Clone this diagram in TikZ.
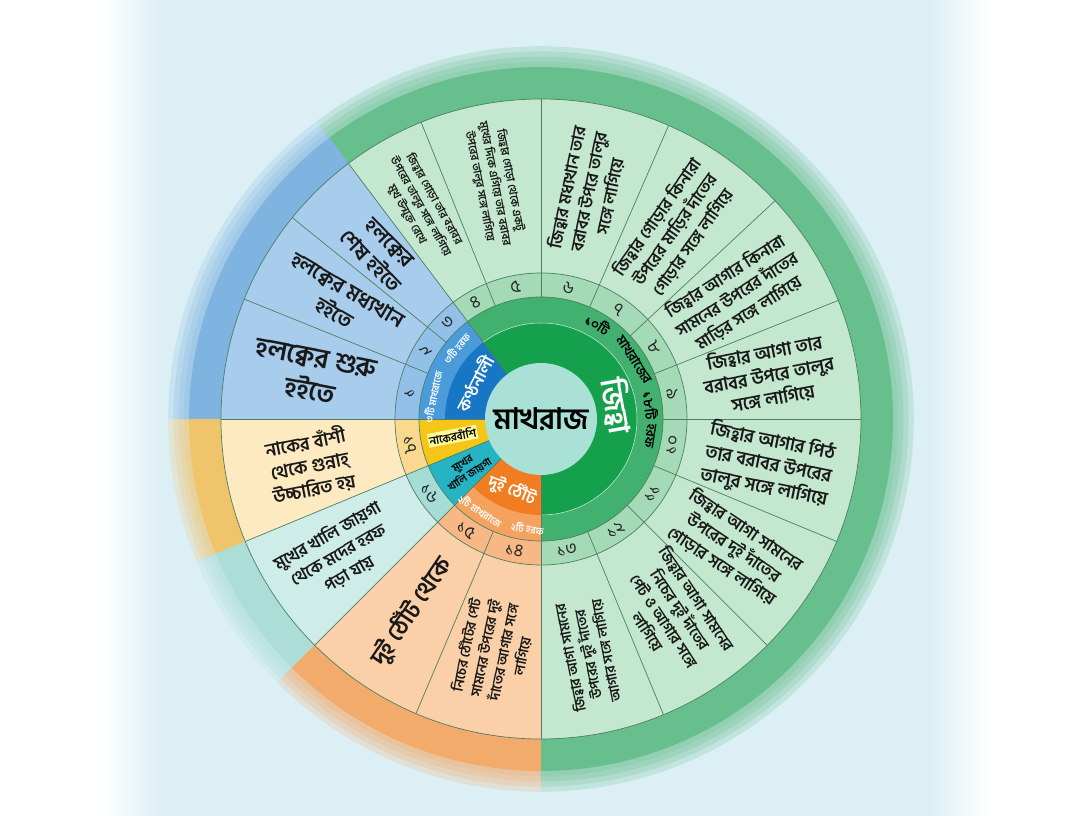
\documentclass[tikz,border=0pt]{standalone}
\usepackage{fontspec}
\newfontfamily\bn[Script=Bengali]{Hind Siliguri}
\usetikzlibrary{calc}

\definecolor{bgblue}{HTML}{DCEFF5}
\definecolor{rimgreen}{HTML}{68BF8E}
\definecolor{rimblue}{HTML}{7FB4E0}
\definecolor{rimyellow}{HTML}{EFC46A}
\definecolor{rimteal}{HTML}{ACDDD7}
\definecolor{rimorange}{HTML}{F3AB6C}
\definecolor{segreen}{HTML}{C3E8CF}
\definecolor{segblue}{HTML}{A8CCEB}
\definecolor{segyellow}{HTML}{FDEAC0}
\definecolor{segteal}{HTML}{CFEDE8}
\definecolor{segorange}{HTML}{FBCFA8}
\definecolor{numgreen}{HTML}{A4DAB5}
\definecolor{numblue}{HTML}{93C0E8}
\definecolor{numyellow}{HTML}{FAD98E}
\definecolor{numteal}{HTML}{A6DCD6}
\definecolor{numorange}{HTML}{F8B885}
\definecolor{midgreen}{HTML}{42B06E}
\definecolor{midblue}{HTML}{4B9BDB}
\definecolor{midorange}{HTML}{F5A25E}
\definecolor{ingreen}{HTML}{14A04C}
\definecolor{inblue}{HTML}{1877C5}
\definecolor{inyellow}{HTML}{F5C518}
\definecolor{inteal}{HTML}{26B3C4}
\definecolor{inorange}{HTML}{F07D22}
\definecolor{hub}{HTML}{A9E1D6}
\definecolor{lineclr}{HTML}{4D7F63}

\begin{document}
\begin{tikzpicture}[
    segtext/.style={align=center, text=black!90, inner sep=1pt},
    num/.style={font=\bn\fontsize{12.5}{12.5}\selectfont, text=black!85, inner sep=0pt},
    ringtext/.style={font=\bn\bfseries\fontsize{9.5}{9.5}\selectfont, inner sep=0pt},
    smallring/.style={font=\bn\bfseries\fontsize{7}{7}\selectfont, text=white, inner sep=0pt},
    segline/.style={lineclr, line width=0.5pt}
]
\useasboundingbox (-13.525,-9.925) rectangle (13.45,10.475);

% Background
\fill[white] (-13.525,-9.925) rectangle (13.45,10.475);
\fill[bgblue] (-9.5,-9.925) rectangle (9.7,10.475);
\shade[left color=white, right color=bgblue] (-11.0,-9.925) rectangle (-9.5,10.475);
\shade[left color=bgblue, right color=white] (9.7,-9.925) rectangle (11.2,10.475);

% Rim (soft edge)
\foreach \a/\b/\c in {-90/127/rimgreen, 127/180/rimblue, 180/202.5/rimyellow, 202.5/225/rimteal, 225/270/rimorange}{
  \foreach \k in {4,3,2,1}
    \fill[\c, opacity=0.22] (0,0) -- (\a:{8.8+0.13*\k}) arc[start angle=\a, end angle=\b, radius={8.8+0.13*\k}] -- cycle;
  \fill[\c] (0,0) -- (\a:8.8) arc[start angle=\a, end angle=\b, radius=8.8] -- cycle;
}

% Text segments
\foreach \a/\b/\c in {-90/127/segreen, 127/180/segblue, 180/202.5/segyellow, 202.5/225/segteal, 225/270/segorange}
  \fill[\c] (0,0) -- (\a:8.0) arc[start angle=\a, end angle=\b, radius=8.0] -- cycle;

% Number ring
\foreach \a/\b/\c in {-90/127/numgreen, 127/180/numblue, 180/202.5/numyellow, 202.5/225/numteal, 225/270/numorange}
  \fill[\c] (0,0) -- (\a:3.65) arc[start angle=\a, end angle=\b, radius=3.65] -- cycle;

% Middle ring
\foreach \a/\b/\c in {-90/127/midgreen, 127/180/midblue, 180/202.5/inyellow, 202.5/225/inteal, 225/270/midorange}
  \fill[\c] (0,0) -- (\a:3.05) arc[start angle=\a, end angle=\b, radius=3.05] -- cycle;

% Inner ring
\foreach \a/\b/\c in {-90/127/ingreen, 127/180/inblue, 225/270/inorange}
  \fill[\c] (0,0) -- (\a:2.4) arc[start angle=\a, end angle=\b, radius=2.4] -- cycle;
\draw[white!70!midgreen, line width=0.4pt] (-90:2.4) arc[start angle=-90, end angle=127, radius=2.4];

% Lines
\draw[segline] (0,0) circle (8.0);
\draw[segline] (0,0) circle (3.65);
\draw[segline] (0,0) circle (3.05);
\foreach \a in {-67.5,-45,-22.5,0,21.75,43,66.5,90,112,141,158,247}
  \draw[segline] (\a:3.05) -- (\a:8.0);
\foreach \a in {-90,127,180,202.5,225}
  \draw[segline] (\a:1.4) -- (\a:8.0);

% Hub
\fill[hub] (0,0) circle (1.4);
\node[font=\bn\bfseries\fontsize{21}{21}\selectfont] (hubtext) at (0,0) {মাখরাজ};

% Inner labels
\node[font=\bn\bfseries\fontsize{21}{21}\selectfont, text=white, rotate=-80] (jihba) at (10:1.92) {জিহ্বা};
\node[font=\bn\bfseries\fontsize{12}{12}\selectfont, text=white, rotate=62] (kantha) at (152:1.9) {কণ্ঠনালী};
\node[font=\bn\bfseries\fontsize{12}{12}\selectfont, text=white, rotate=-22] (thot) at (248:1.92) {দুই ঠোঁট};
\node[font=\bn\bfseries\fontsize{8}{8}\selectfont, fill=yellow!40, inner sep=1pt, rotate=11] (nak) at (191:2.25) {নাকেরবাঁশি};
\node[font=\bn\bfseries\fontsize{7.5}{9.5}\selectfont, align=center, rotate=34] (mukh) at (214:2.25) {মুখের\\খালি জায়গা};

% Middle ring labels
\node[ringtext, rotate=-32] (g1) at (59:2.76) {১০টি};
\node[ringtext, rotate=-57.5] (g2) at (32.5:2.76) {মাখরাজের};
\node[ringtext, rotate=-83] (g3) at (7:2.76) {১৮টি};
\node[ringtext, rotate=-99] (g4) at (-9:2.76) {হরফ};
\node[smallring, rotate=78.5] (b1) at (168.5:2.76) {৩টি মাখরাজে};
\node[smallring, rotate=50] (b2) at (140:2.76) {৩টি হরফ};
\node[smallring, rotate=-33.5] (o1) at (236.5:2.76) {২টি মাখরাজে};
\node[smallring, rotate=-7] (o2) at (263:2.76) {২টি হরফ};

% Numbers
\foreach \n/\m/\r in {১/169/79, ২/149.5/59.5, ৩/134/44, ৪/119.5/29.5, ৫/101/11, ৬/78.25/-11.75, ৭/54.75/-35.25, ৮/32.4/-57.6, ৯/10.9/-79.1, ১০/-11.25/78.75, ১১/-33.75/56.25, ১২/-56.25/33.75, ১৩/-78.75/11.25, ১৪/258.5/-11.5, ১৫/236/-34, ১৬/213.75/-56.25, ১৭/191.25/-78.75}
  \node[num, rotate=\r] (n\n) at (\m:3.35) {\n};

% Segment texts
\node[segtext, font=\bn\bfseries\fontsize{19}{24}\selectfont, rotate=-11] (s1) at (169:5.8) {হলক্বের শুরু\\হইতে};
\node[segtext, font=\bn\bfseries\fontsize{15}{19}\selectfont, rotate=-30.5] (s2) at (149.5:5.8) {হলক্বের মধ্যখান\\হইতে};
\node[segtext, font=\bn\bfseries\fontsize{15}{19}\selectfont, rotate=-46] (s3) at (134:5.8) {হলক্বের\\শেষ হইতে};
\node[segtext, font=\bn\bfseries\fontsize{8}{11}\selectfont, rotate=-60.5] (s4) at (119.5:6.1) {জিহ্বার গোড়া তার বরাবর\\উপরের তালুর সঙ্গে লাগিয়ে\\মুখ উন্মুক্ত রেখে};
\node[segtext, font=\bn\bfseries\fontsize{8}{11}\selectfont, rotate=-79] (s5) at (101:6.0) {জিহ্বার গোড়া থেকে একটু\\মুখের দিকে এগিয়ে তার বরাবর\\উপরের তালুর সঙ্গে লাগিয়ে};
\node[segtext, font=\bn\bfseries\fontsize{12}{15.5}\selectfont, rotate=78.25] (s6) at (78.25:5.8) {জিহ্বার মধ্যখান তার\\বরাবর উপরে তালুর\\সঙ্গে লাগিয়ে};
\node[segtext, font=\bn\bfseries\fontsize{12}{15.5}\selectfont, rotate=54.75] (s7) at (54.75:5.8) {জিহ্বার গোড়ার কিনারা\\উপরের মাড়ির দাঁতের\\গোড়ার সঙ্গে লাগিয়ে};
\node[segtext, font=\bn\bfseries\fontsize{12}{15.5}\selectfont, rotate=32.4] (s8) at (32.4:5.8) {জিহ্বার আগার কিনারা\\সামনের উপরের দাঁতের\\মাড়ির সঙ্গে লাগিয়ে};
\node[segtext, font=\bn\bfseries\fontsize{13}{16.5}\selectfont, rotate=10.9] (s9) at (10.9:5.8) {জিহ্বার আগা তার\\বরাবর উপরে তালুর\\সঙ্গে লাগিয়ে};
\node[segtext, font=\bn\bfseries\fontsize{13}{16.5}\selectfont, rotate=-11.25] (s10) at (-11.25:5.8) {জিহ্বার আগার পিঠ\\তার বরাবর উপরের\\তালুর সঙ্গে লাগিয়ে};
\node[segtext, font=\bn\bfseries\fontsize{12}{15.5}\selectfont, rotate=-33.75] (s11) at (-33.75:5.8) {জিহ্বার আগা সামনের\\উপরের দুই দাঁতের\\গোড়ার সঙ্গে লাগিয়ে};
\node[segtext, font=\bn\bfseries\fontsize{11}{14}\selectfont, rotate=-56.25] (s12) at (-56.25:5.9) {জিহ্বার আগা সামনের\\নিচের দুই দাঁতের\\পেট ও আগার সঙ্গে\\লাগিয়ে};
\node[segtext, font=\bn\bfseries\fontsize{10}{13}\selectfont, rotate=101.25] (s13) at (-78.75:6.0) {জিহ্বার আগা সামনের\\উপরের দুই দাঁতের\\আগার সঙ্গে লাগিয়ে};
\node[segtext, font=\bn\bfseries\fontsize{10}{13.5}\selectfont, rotate=78.5] (s14) at (258.5:5.9) {নিচের ঠোঁটের পেট\\সামনের উপরের দুই\\দাঁতের আগার সঙ্গে\\লাগিয়ে};
\node[segtext, font=\bn\bfseries\fontsize{17}{20}\selectfont, rotate=56] (s15) at (236:5.8) {দুই ঠোঁট থেকে};
\node[segtext, font=\bn\bfseries\fontsize{12}{15.5}\selectfont, rotate=30] (s16) at (213.75:6.1) {মুখের খালি জায়গা\\থেকে মদের হরফ\\পড়া যায়};
\node[segtext, font=\bn\bfseries\fontsize{13}{16.5}\selectfont, rotate=11.25] (s17) at (191.25:5.9) {নাকের বাঁশী\\থেকে গুন্নাহ্\\উচ্চারিত হয়};

\end{tikzpicture}
\end{document}
